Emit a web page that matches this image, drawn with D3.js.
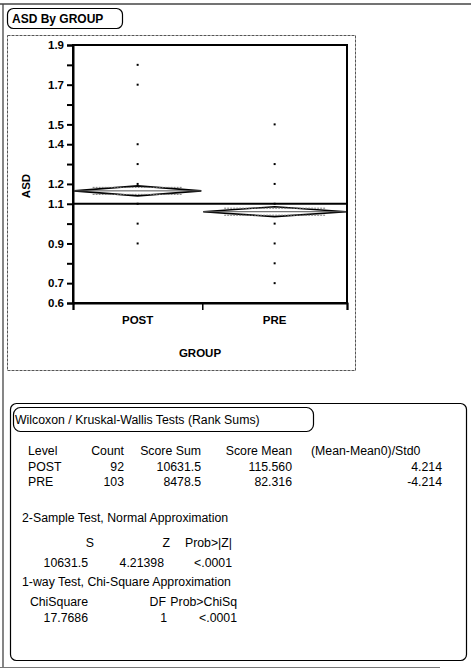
<!DOCTYPE html>
<html><head><meta charset="utf-8">
<script src="https://cdn.jsdelivr.net/npm/d3@7"></script>
<style>
html,body{margin:0;padding:0;background:#fff;}
svg{display:block;font-family:"Liberation Sans",Arial,sans-serif;}
</style></head>
<body>
<script>
// ---- chart data ----
const categories = ["POST", "PRE"];
const counts = [92, 103];
const groupMeans = [1.165, 1.06];
const ciHalf = [0.025, 0.025];
const postValues = [1.8, 1.7, 1.4, 1.3, 1.2, 1.1, 1.0, 0.9];
const preValues = [1.5, 1.3, 1.2, 1.1, 1.0, 0.9, 0.8, 0.7];
const grandMean = 1.1;
const yTickValues = [0.6, 0.7, 0.8, 0.9, 1.0, 1.1, 1.2, 1.3, 1.4, 1.5, 1.6, 1.7, 1.8, 1.9];
const yTickLabels = [0.6, 0.7, 0.9, 1.1, 1.2, 1.4, 1.5, 1.7, 1.9];

// ---- report data ----
const rankHeaders = ["Level", "Count", "Score Sum", "Score Mean", "(Mean-Mean0)/Std0"];
const rankLevels = ["POST", "PRE"];
const rankCounts = ["92", "103"];
const scoreSums = ["10631.5", "8478.5"];
const scoreMeans = ["115.560", "82.316"];
const stdScores = ["4.214", "-4.214"];
const twoSampleHeaders = ["S", "Z", "Prob>|Z|"];
const twoSampleValues = ["10631.5", "4.21398", "<.0001"];
const chiHeaders = ["ChiSquare", "DF", "Prob>ChiSq"];
const chiValues = ["17.7686", "1", "<.0001"];

const W = 471, H = 671;
const svg = d3.select("body").append("svg").attr("width", W).attr("height", H);

// outer frame
svg.append("line").attr("x1",0).attr("x2",W).attr("y1",4).attr("y2",4).attr("stroke","#444").attr("stroke-width",1.3);
svg.append("line").attr("x1",3).attr("x2",3).attr("y1",4).attr("y2",668).attr("stroke","#444").attr("stroke-width",1.3);
svg.append("line").attr("x1",0).attr("x2",440).attr("y1",667.5).attr("y2",667.5).attr("stroke","#777").attr("stroke-width",1);

// title box
svg.append("rect").attr("x",7.5).attr("y",8.5).attr("width",115).attr("height",20).attr("rx",6)
  .attr("fill","none").attr("stroke","#000").attr("stroke-width",1.2);
svg.append("text").attr("x",12).attr("y",23).attr("font-size",12).attr("font-weight","bold").text("ASD By GROUP");

// chart panel
svg.append("rect").attr("x",7.5).attr("y",35.5).attr("width",348).attr("height",335)
  .attr("fill","none").attr("stroke","#555").attr("stroke-width",1).attr("stroke-dasharray","3,1");

const L = 73, R = 347, T = 45, B = 303;
const total = d3.sum(counts);
const x = d3.scaleLinear().domain([0, total]).range([L, R]);
const y = d3.scaleLinear().domain([0.6, 1.9]).range([B, T]);
const cum = d3.cumsum(counts);
const starts = [0, ...cum.slice(0, -1)];

// plot frame
const g = svg.append("g");
g.append("rect").attr("x",L).attr("y",T).attr("width",R-L).attr("height",B-T)
  .attr("fill","none").attr("stroke","#000").attr("stroke-width",2);

// y axis ticks
const yAxis = d3.axisLeft(y).tickValues(yTickValues).tickSize(6)
  .tickFormat(d => yTickLabels.some(v => Math.abs(v-d)<1e-9) ? d3.format(".1f")(d) : "");
const ya = g.append("g").attr("transform",`translate(${L},0)`).call(yAxis);
ya.select(".domain").attr("stroke-width",2);
ya.selectAll(".tick line").attr("stroke-width",2);
ya.selectAll(".tick text").attr("font-size",11.5).attr("font-weight","bold")
  .attr("font-family","Liberation Sans, Arial, sans-serif").attr("x",-9).attr("fill","#000");

// x axis: category boundaries + labels
const xa = g.append("g").attr("transform",`translate(0,${B})`)
  .call(d3.axisBottom(x).tickValues([0, ...cum]).tickSize(7).tickFormat(""));
xa.select(".domain").attr("stroke-width",2);
xa.selectAll(".tick line").attr("stroke-width",1.5);
categories.forEach((c,i) => {
  g.append("text").attr("x", x(starts[i] + counts[i]/2)).attr("y", 324)
    .attr("text-anchor","middle").attr("font-size",11.5).attr("font-weight","bold").text(c);
});
svg.append("text").attr("x",200).attr("y",357).attr("text-anchor","middle")
  .attr("font-size",11.5).attr("font-weight","bold").text("GROUP");
svg.append("text").attr("transform",`translate(30,186) rotate(-90)`).attr("text-anchor","middle")
  .attr("font-size",11.5).attr("font-weight","bold").text("ASD");

// grand mean line
g.append("line").attr("x1",L).attr("x2",R).attr("y1",y(grandMean)).attr("y2",y(grandMean))
  .attr("stroke","#000").attr("stroke-width",2);

// mean diamonds
categories.forEach((c,i) => {
  const x0 = x(starts[i]) + 1, x1 = x(cum[i]) - 1, xc = (x0+x1)/2;
  const m = groupMeans[i], h = ciHalf[i];
  const path = d3.path();
  path.moveTo(x0, y(m)); path.lineTo(xc, y(m+h)); path.lineTo(x1, y(m)); path.lineTo(xc, y(m-h)); path.closePath();
  g.append("path").attr("d", path.toString()).attr("fill","#fff").attr("stroke","#000").attr("stroke-width",1.6);
  g.append("line").attr("x1",x0).attr("x2",x1).attr("y1",y(m)).attr("y2",y(m)).attr("stroke","#555").attr("stroke-width",1);
  const o = h/Math.SQRT2, f = 1 - o/h;
  [m+o, m-o].forEach(v => {
    const dx = (xc - x0) * f;
    g.append("line").attr("x1",x0+dx).attr("x2",x1-dx).attr("y1",y(v)).attr("y2",y(v))
      .attr("stroke","#777").attr("stroke-width",1).attr("stroke-dasharray","2,1");
  });
});

// points
[postValues, preValues].forEach((vals,i) => {
  const cx = x(starts[i] + counts[i]/2);
  g.selectAll(null).data(vals).enter().append("rect")
    .attr("x", cx-1).attr("y", d => y(d)-1).attr("width",2).attr("height",2).attr("fill","#000");
});

// ---- report panel ----
svg.append("rect").attr("x",10.5).attr("y",403.5).attr("width",456).attr("height",257).attr("rx",6)
  .attr("fill","none").attr("stroke","#000").attr("stroke-width",1.2);
svg.append("rect").attr("x",13.5).attr("y",407.5).attr("width",300).attr("height",24).attr("rx",7)
  .attr("fill","none").attr("stroke","#000").attr("stroke-width",1.2);
const fs = 12.3;
svg.append("text").attr("x",15).attr("y",424).attr("font-size",fs).text("Wilcoxon / Kruskal-Wallis Tests (Rank Sums)");

// rank table
const colAnchor = [["start",28],["end",124],["end",201],["end",292],["end",442]];
const hdrAnchor = [["start",28],["end",124],["end",201],["end",292],["start",311]];
rankHeaders.forEach((h,j) => {
  svg.append("text").attr("x",hdrAnchor[j][1]).attr("y",455).attr("text-anchor",hdrAnchor[j][0]).attr("font-size",fs).text(h);
});
const rows = rankLevels.map((l,i) => [l, rankCounts[i], scoreSums[i], scoreMeans[i], stdScores[i]]);
rows.forEach((r,i) => {
  r.forEach((v,j) => {
    svg.append("text").attr("x",colAnchor[j][1]).attr("y",471 + i*15).attr("text-anchor",colAnchor[j][0]).attr("font-size",fs).text(v);
  });
});

svg.append("text").attr("x",22).attr("y",522).attr("font-size",fs).text("2-Sample Test, Normal Approximation");
const tsX = [94, 170, 232];
twoSampleHeaders.forEach((h,j) => svg.append("text").attr("x",tsX[j]).attr("y",547).attr("text-anchor","end").attr("font-size",fs).text(h));
const tsVX = [88, 164, 232];
twoSampleValues.forEach((v,j) => svg.append("text").attr("x",tsVX[j]).attr("y",567).attr("text-anchor","end").attr("font-size",fs).text(v));

svg.append("text").attr("x",22).attr("y",586).attr("font-size",fs).text("1-way Test, Chi-Square Approximation");
const chX = [88, 166, 237];
chiHeaders.forEach((h,j) => svg.append("text").attr("x",chX[j]).attr("y",606).attr("text-anchor","end").attr("font-size",fs).text(h));
const chVX = [88, 167, 237];
chiValues.forEach((v,j) => svg.append("text").attr("x",chVX[j]).attr("y",622).attr("text-anchor","end").attr("font-size",fs).text(v));
</script>
</body></html>
